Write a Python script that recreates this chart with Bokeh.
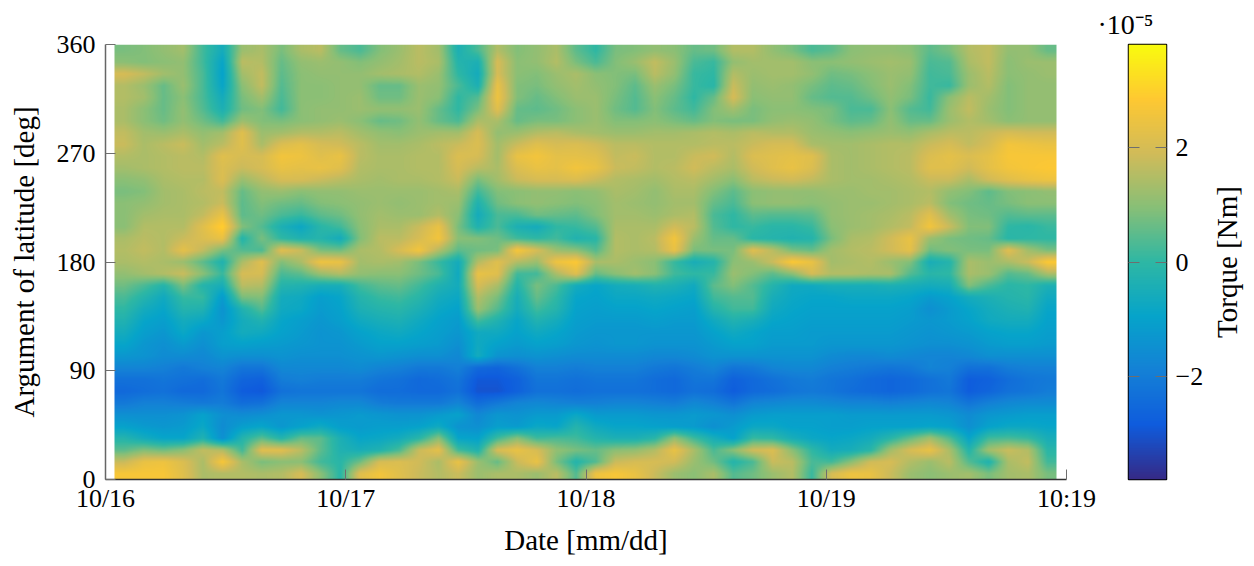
import numpy as np
from bokeh.plotting import figure
from bokeh.layouts import row
from bokeh.models import FixedTicker, LinearAxis, LinearColorMapper, Title
from bokeh.embed import file_html
from bokeh.resources import INLINE

FONT = "Liberation Serif"

# Torque in units of 1e-6 Nm; rows run from latitude 360 (top) to 0 (bottom), columns in date order
torque = [
[8,9,11,13,2,-6,12,14,8,14,16,6,3,9,12,16,13,-4,3,15,9,11,14,5,0,8,9,11,10,6,7,15,15,11,8,3,5,10,11,11,10,5,8,15,17,11,11,6],
[10,9,10,11,2,-9,16,15,6,11,12,11,9,11,13,16,14,-2,-4,20,10,11,15,8,3,9,12,17,12,3,1,11,13,13,13,10,10,11,12,13,12,3,4,14,17,10,12,12],
[20,17,13,11,3,-10,13,17,5,10,11,11,11,13,14,15,12,0,-6,20,10,9,12,14,10,9,8,16,11,1,0,15,12,13,13,11,7,8,10,12,11,2,3,12,16,10,11,12],
[15,12,6,12,3,-9,10,17,4,10,10,11,11,6,6,12,11,3,-4,24,9,8,11,13,11,9,5,12,8,1,-1,18,11,12,11,8,5,6,9,12,9,2,1,12,15,9,11,11],
[15,13,6,10,3,-6,8,13,3,10,10,11,12,7,7,12,10,0,4,25,9,6,9,12,12,8,4,10,6,0,6,20,10,11,11,6,4,4,7,11,8,1,10,16,13,9,11,11],
[14,10,6,11,4,-4,7,9,2,10,11,11,12,11,11,12,6,0,8,22,6,5,7,10,12,7,4,9,5,2,9,13,8,10,10,9,8,3,3,10,4,2,12,17,12,9,11,11],
[14,10,7,11,7,2,12,9,8,10,11,12,10,6,7,11,6,3,14,14,6,8,8,10,12,9,9,10,8,6,9,8,8,11,12,11,8,5,6,11,6,6,12,15,13,10,11,11],
[17,13,12,14,11,13,22,12,13,15,15,16,13,11,10,12,13,13,20,11,12,15,16,14,13,12,12,13,13,14,15,14,16,15,15,12,11,10,11,12,11,14,16,16,18,20,19,19],
[18,14,16,18,13,16,22,14,21,23,20,19,16,13,13,14,16,18,21,13,18,22,20,21,19,16,16,15,15,15,16,16,18,20,20,14,13,13,14,15,15,18,20,17,20,26,25,24],
[15,14,15,16,15,22,20,20,26,25,22,24,16,14,14,15,15,21,20,13,24,26,23,23,22,17,18,15,15,18,19,15,21,22,23,22,14,13,14,15,16,21,23,21,23,27,27,27],
[13,14,15,16,16,21,18,20,24,23,24,22,15,14,14,15,15,20,16,14,21,24,23,26,24,18,17,15,16,19,16,14,19,22,24,21,14,13,14,15,16,22,22,19,23,26,27,28],
[10,11,14,15,15,21,12,16,20,20,18,16,14,13,14,14,15,18,8,13,18,20,20,21,18,15,14,13,15,16,13,10,16,18,19,17,14,13,13,14,15,18,18,14,19,22,24,25],
[8,9,13,14,16,17,6,11,12,10,11,11,12,12,12,12,13,14,2,9,10,11,11,10,11,14,13,11,14,14,9,5,10,11,11,11,12,12,13,13,14,15,11,9,5,9,10,11],
[10,11,13,14,15,18,5,9,7,6,9,10,11,12,11,12,13,12,-3,7,10,11,10,9,10,13,12,11,13,13,6,3,10,11,11,10,11,12,12,13,14,16,9,7,6,8,10,10],
[10,13,14,14,17,24,5,7,3,1,5,7,11,13,12,12,15,10,-6,3,3,7,6,5,9,13,13,12,14,15,3,0,5,4,4,5,11,12,13,14,16,22,13,8,7,4,5,5],
[10,15,15,15,22,30,9,4,-4,-8,-1,2,10,14,14,18,24,8,-3,3,-4,-6,0,1,4,14,14,14,19,16,4,0,1,-1,-1,1,10,12,13,15,17,26,18,9,9,0,-1,1],
[14,16,15,18,21,24,-2,8,0,-3,-2,-6,9,16,16,20,26,10,9,7,2,0,2,-3,-1,15,14,16,26,12,6,6,-1,-2,-3,-2,8,14,15,19,24,12,8,7,6,-1,0,0],
[15,17,15,23,17,8,4,3,22,18,8,7,14,15,20,26,15,5,7,8,27,20,12,10,4,15,14,15,24,8,8,8,22,16,8,6,13,15,16,19,23,7,9,8,8,22,13,8],
[14,15,14,12,5,-3,14,22,9,14,25,24,13,14,13,8,1,-6,15,22,15,12,25,28,14,14,12,10,1,-5,-2,10,12,18,28,24,13,14,15,12,9,-5,-2,14,12,14,18,28],
[11,13,15,18,10,1,20,20,3,5,12,15,11,10,10,7,3,-7,24,22,2,2,14,22,6,10,13,10,2,0,1,12,9,5,10,20,15,15,14,14,4,-1,0,14,12,4,6,14],
[7,3,-2,8,-2,-5,16,15,-2,-3,-5,-5,2,5,6,2,-3,-6,20,14,-2,8,3,-6,-9,-6,-5,-3,-4,-7,5,9,4,-2,-7,-7,-5,-5,-5,-4,-5,-6,-5,9,3,-1,0,-4],
[3,-2,-7,1,1,-12,8,9,-6,-7,-11,-9,-2,1,2,-1,-6,-8,15,8,-5,6,0,-9,-10,-8,-8,-7,-8,-9,2,4,4,-5,-8,-9,-9,-8,-8,-8,-9,-12,-10,-6,-4,-2,-1,-7],
[0,-6,-9,-2,-3,-14,-3,4,-7,-8,-12,-10,-4,-2,-1,-4,-8,-10,12,4,-6,2,-2,-10,-11,-10,-10,-9,-10,-11,-2,2,2,-7,-9,-10,-10,-10,-10,-10,-11,-15,-12,-9,-6,-4,-3,-9],
[-3,-9,-11,-6,-8,-13,-6,-3,-9,-11,-13,-11,-7,-5,-4,-7,-10,-12,2,-3,-9,-3,-6,-11,-12,-12,-12,-11,-12,-12,-7,-3,-5,-9,-10,-11,-11,-11,-11,-11,-12,-13,-12,-10,-7,-6,-6,-10],
[-6,-11,-13,-8,-13,-11,-6,-7,-10,-12,-14,-13,-10,-8,-7,-9,-11,-13,-7,-7,-10,-7,-9,-12,-13,-13,-13,-13,-13,-13,-10,-7,-9,-11,-11,-12,-12,-12,-12,-12,-13,-14,-13,-12,-10,-9,-9,-11],
[-9,-13,-15,-12,-15,-11,-10,-11,-12,-13,-14,-14,-12,-10,-10,-11,-12,-15,-7,-10,-12,-10,-11,-13,-14,-13,-13,-14,-14,-14,-12,-10,-10,-12,-12,-12,-13,-13,-13,-13,-14,-15,-15,-14,-12,-11,-11,-12],
[-13,-14,-16,-16,-17,-14,-15,-15,-14,-15,-15,-15,-14,-13,-14,-15,-15,-17,-6,-14,-15,-14,-15,-16,-16,-16,-16,-17,-17,-16,-14,-14,-14,-14,-14,-14,-16,-17,-17,-16,-17,-18,-18,-17,-15,-15,-15,-15],
[-18,-18,-19,-21,-19,-18,-22,-22,-17,-17,-17,-17,-16,-18,-19,-21,-21,-19,-25,-26,-23,-19,-19,-20,-19,-19,-19,-21,-22,-20,-18,-22,-21,-18,-17,-17,-19,-20,-21,-22,-21,-18,-19,-23,-23,-20,-19,-19],
[-23,-23,-22,-23,-24,-21,-26,-27,-20,-19,-20,-20,-20,-22,-23,-25,-24,-22,-29,-29,-27,-22,-22,-23,-22,-22,-22,-24,-25,-22,-22,-27,-25,-23,-21,-20,-22,-23,-25,-26,-25,-23,-21,-28,-27,-24,-22,-21],
[-25,-24,-23,-25,-25,-22,-28,-29,-23,-22,-22,-22,-22,-24,-24,-25,-25,-23,-30,-30,-27,-23,-23,-24,-23,-23,-23,-24,-25,-23,-24,-28,-25,-24,-22,-21,-22,-24,-25,-26,-25,-23,-22,-28,-26,-23,-22,-20],
[-21,-19,-19,-20,-21,-20,-24,-23,-18,-18,-18,-17,-17,-20,-21,-21,-21,-18,-24,-21,-18,-17,-18,-19,-19,-18,-18,-19,-20,-17,-19,-22,-18,-17,-16,-16,-17,-18,-18,-19,-18,-17,-18,-22,-19,-17,-16,-16],
[-15,-15,-15,-14,-10,-15,-16,-15,-13,-13,-14,-13,-12,-13,-14,-14,-12,-10,-17,-13,-14,-12,-12,-8,-12,-12,-12,-13,-13,-12,-13,-15,-12,-11,-11,-11,-11,-12,-12,-12,-12,-12,-13,-16,-13,-12,-11,-11],
[-10,-12,-13,-12,-8,-16,-11,-9,-13,-10,-7,-11,-12,-11,-11,-10,-7,-14,-15,-11,-12,-8,-9,-2,-7,-9,-9,-10,-11,-12,-15,-12,-8,-8,-10,-10,-11,-11,-10,-10,-10,-9,-10,-15,-10,-8,-8,-9],
[-2,-6,-9,-9,-3,-15,-2,5,-2,6,5,-4,-9,-8,-6,-1,10,-9,-10,2,10,2,3,2,-2,-4,-4,-1,11,2,-5,-10,1,0,-5,-8,-9,-8,-6,-1,6,13,4,-9,2,3,1,-5],
[5,9,7,10,17,15,2,22,22,16,5,-3,-5,-3,3,18,23,2,-3,20,24,20,11,8,6,10,11,15,24,14,3,10,19,21,10,0,-6,-5,-1,13,20,24,14,-2,13,18,15,-1],
[18,24,25,21,14,27,14,8,10,10,2,-1,7,20,21,19,14,24,12,6,18,24,8,-2,4,18,20,20,19,12,7,-2,3,18,16,3,2,10,19,20,15,12,16,4,-3,14,17,2],
[27,27,27,22,14,15,15,14,15,20,10,-1,22,26,22,18,15,18,12,14,14,12,16,4,25,27,24,18,12,10,14,4,7,12,15,1,20,25,24,18,12,10,12,13,8,13,14,8],
]

date_ticks = [0, 1, 2, 3, 4]
date_labels = ["10/16", "10/17", "10/18", "10/19", "10:19"]
lat_ticks = [0, 90, 180, 270, 360]
cbar_ticks = [-2, 0, 2]
cbar_labels = ["\u22122", "0", "2"]
parula_stops = ["#352A87", "#0F5CDD", "#1481D6", "#06A4CA", "#2EB7A4", "#87BF77", "#D1BB59", "#FEC832", "#F9FB0E"]

# Colour scale
s = np.array([[int(c[i:i+2], 16) for i in (1, 3, 5)] for c in parula_stops], float)
t = np.linspace(0, 1, 256)
tp = np.linspace(0, 1, len(s))
palette = ["#%02x%02x%02x" % tuple(int(round(np.interp(v, tp, s[:, k]))) for k in range(3)) for v in t]
mapper = LinearColorMapper(palette=palette, low=-3.8, high=3.8)

# The read values are the nodes of a shaded surface; the shading between nodes is done here
# (bilinear, as the original's interpolating shader) because Bokeh images draw hard-edged cells.
grid = np.flipud(np.array(torque, dtype=float)) / 10.0
SHADE_W, SHADE_H = 942, 435
def shade(a, w, h):
    ny, nx = a.shape
    xs = (np.arange(w) + 0.5) / w * nx - 0.5
    ys = (np.arange(h) + 0.5) / h * ny - 0.5
    b = np.array([np.interp(xs, np.arange(nx), r) for r in a])
    return np.array([np.interp(ys, np.arange(ny), c) for c in b.T]).T
surface = shade(grid, SHADE_W, SHADE_H).astype(np.float32)

GRAY = "#6e6e6e"
FS = "26px"
LS = "29px"

p = figure(frame_width=961, frame_height=435, output_backend="svg", toolbar_location=None,
           x_range=(0, 4), y_range=(0, 360),
           min_border_left=105, min_border_right=30, min_border_top=44, min_border_bottom=81,
           x_axis_label="Date [mm/dd]", y_axis_label="Argument of latitude [deg]")
p.image(image=[surface], x=0.03746, y=0, dw=3.9209, dh=360, color_mapper=mapper)
p.grid.visible = False
p.outline_line_color = None
p.xaxis.ticker = FixedTicker(ticks=date_ticks)
p.xaxis.major_label_overrides = dict(zip(date_ticks, date_labels))
p.yaxis.ticker = FixedTicker(ticks=lat_ticks)
for ax in (p.below[0], p.left[0]):
    ax.major_tick_in = 10
    ax.major_tick_out = 0
    ax.minor_tick_in = 0
    ax.minor_tick_out = 0
    ax.major_tick_line_color = GRAY
    ax.major_tick_line_width = 1
    ax.axis_line_width = 1.5
    ax.major_label_text_font = FONT
    ax.major_label_text_font_size = FS
    ax.major_label_text_color = "black"
    ax.axis_label_text_font = FONT
    ax.axis_label_text_font_size = LS
    ax.axis_label_text_font_style = "normal"
    ax.axis_label_text_color = "black"
p.below[0].axis_line_color = "#333333"
p.left[0].axis_line_color = "#666666"
p.below[0].major_label_standoff = 4
p.below[0].axis_label_standoff = 8
p.left[0].major_label_standoff = 10
p.left[0].axis_label_standoff = 14

cb = figure(frame_width=38, frame_height=435, output_backend="svg", toolbar_location=None,
            x_range=(0, 1), y_range=(-3.8, 3.8), y_axis_location="right",
            min_border_left=32, min_border_right=40, min_border_top=44, min_border_bottom=81)
cb.image(image=[np.linspace(-3.8, 3.8, 256).reshape(-1, 1)], x=0, y=-3.8, dw=1, dh=7.6, color_mapper=mapper)
cb.grid.visible = False
cb.xaxis.visible = False
cb.outline_line_color = "black"
cb.outline_line_width = 1.5
r = cb.right[0]
left = LinearAxis()
cb.add_layout(left, "left")
for ax in (r, left):
    ax.ticker = FixedTicker(ticks=cbar_ticks)
    ax.major_tick_in = 11
    ax.major_tick_out = 0
    ax.minor_tick_in = 0
    ax.minor_tick_out = 0
    ax.major_tick_line_color = GRAY
    ax.axis_line_color = None
r.major_label_overrides = dict(zip(cbar_ticks, cbar_labels))
r.major_label_text_font = FONT
r.major_label_text_font_size = FS
r.major_label_text_color = "black"
r.major_label_standoff = 9
left.major_label_text_color = None
left.major_label_standoff = 0

cb.add_layout(Title(text="\u00b710\u207b\u2075", text_font=FONT, text_font_size="28px", text_font_style="normal",
                    text_color="black", align="left", offset=-31, standoff=9), "above")

# Narrow strip that only carries the colour bar's label, centred on the bar and reading upwards
tl = figure(frame_width=1, frame_height=435, output_backend="svg", toolbar_location=None,
            x_range=(0, 1), y_range=(-3.8, 3.8),
            min_border_left=32, min_border_right=0, min_border_top=44, min_border_bottom=81)
tl.grid.visible = False
tl.xaxis.visible = False
tl.yaxis.visible = False
tl.outline_line_color = None
tl.add_layout(Title(text="Torque [Nm]", text_font=FONT, text_font_size=LS, text_font_style="normal",
                    text_color="black", align="center", standoff=5), "left")

page = row(p, cb, tl, spacing=0)
open("out.html", "w").write(file_html(page, INLINE))
